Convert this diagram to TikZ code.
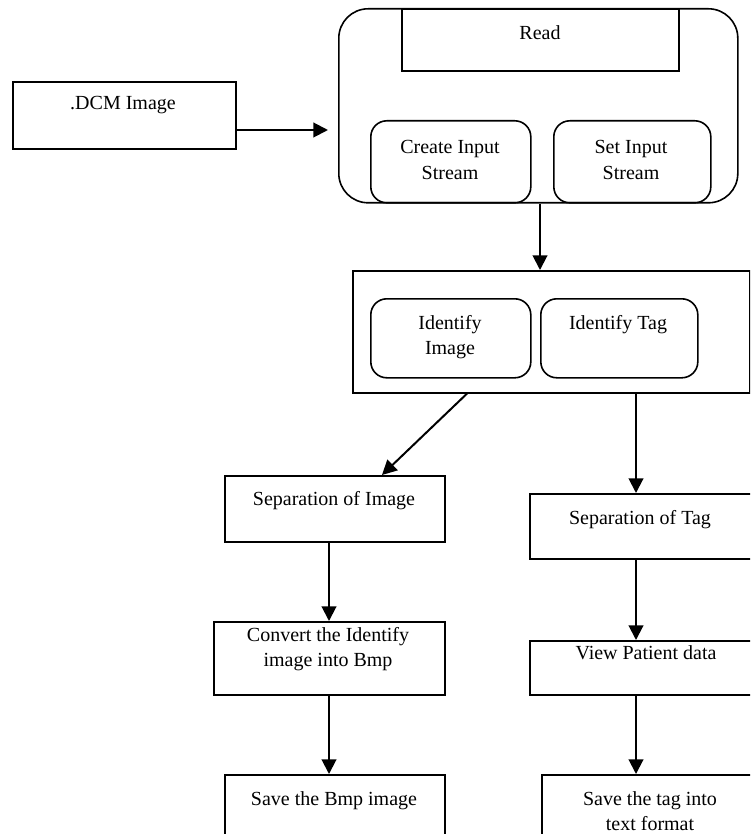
\documentclass[tikz,border=0pt]{standalone}
\usepackage{fontspec}
\setmainfont{Liberation Serif}
\usetikzlibrary{arrows.meta}
\newdimen\px \px=0.75pt
\tikzset{
  box/.style={draw, line width=1.2pt, inner sep=0pt, anchor=north west},
  rbox/.style={box, rounded corners=12pt},
  obox/.style={box, rounded corners=22pt},
  txt/.style={font=\fontsize{15}{19}\selectfont, align=center, inner sep=0pt},
  arr/.style={line width=1.5pt, -{Triangle[length=11pt,width=11pt]}}
}
\begin{document}
\begin{tikzpicture}[x=0.75pt, y=-0.75pt]
\useasboundingbox (0,0) rectangle (750,834);
\clip (0,0) rectangle (750,834);
% boxes
\node[box, minimum width=223\px, minimum height=67\px] (dcm) at (12,81) {};
\node[obox, minimum width=399\px, minimum height=194\px] (outer) at (338,8) {};
\node[box, minimum width=277\px, minimum height=62\px] (read) at (401,8) {};
\node[rbox, minimum width=160\px, minimum height=82\px] (create) at (370,120) {};
\node[rbox, minimum width=157\px, minimum height=82\px] (set) at (553,120) {};
\node[box, minimum width=397\px, minimum height=122\px] (idbox) at (352,270) {};
\node[rbox, minimum width=160\px, minimum height=79\px] (idimg) at (370,298) {};
\node[rbox, minimum width=157\px, minimum height=79\px] (idtag) at (540,298) {};
\node[box, minimum width=220\px, minimum height=66\px] (sepimg) at (224,475) {};
\node[box, minimum width=230\px, minimum height=65\px] (septag) at (529,493) {};
\node[box, minimum width=231\px, minimum height=73\px] (convert) at (213,621) {};
\node[box, minimum width=230\px, minimum height=54\px] (view) at (529,640) {};
\node[box, minimum width=220\px, minimum height=90\px] (savebmp) at (224,774) {};
\node[box, minimum width=230\px, minimum height=90\px] (savetag) at (541,774) {};
% texts
\node[txt] (tdcm) at (123,105) {.DCM Image};
\node[txt] (tread) at (540,33) {Read};
\node[txt] (tcreate) at (450,160) {Create Input\\Stream};
\node[txt] (tset) at (631,160) {Set Input\\Stream};
\node[txt] (tidimg) at (450,337) {Identify\\Image};
\node[txt] (tidtag) at (618,325) {Identify Tag};
\node[txt] (tsepimg) at (334,501) {Separation of Image};
\node[txt] (tseptag) at (640,520) {Separation of Tag};
\node[txt] (tconvert) at (328,649) {Convert the Identify\\image into Bmp};
\node[txt] (tview) at (646,653) {View Patient data};
\node[txt] (tsavebmp) at (334,801) {Save the Bmp image};
\node[txt] (tsavetag) at (650,811) {Save the tag into\\text format};
% connector coordinates
\coordinate (rin) at (328,130);
\coordinate (c1) at (540,0);
\coordinate (d1) at (467,0);
\coordinate (d2) at (382,0);
\coordinate (cl) at (329,0);
\coordinate (cr) at (636,0);
% connectors
\draw[arr] (dcm.east |- rin) -- (rin);
\draw[arr] (outer.south -| c1) -- (idbox.north -| c1);
\draw[arr] (idbox.south -| d1) -- (sepimg.north -| d2);
\draw[arr] (idbox.south -| cr) -- (septag.north -| cr);
\draw[arr] (sepimg.south -| cl) -- (convert.north -| cl);
\draw[arr] (septag.south -| cr) -- (view.north -| cr);
\draw[arr] (convert.south -| cl) -- (savebmp.north -| cl);
\draw[arr] (view.south -| cr) -- (savetag.north -| cr);
\end{tikzpicture}
\end{document}
